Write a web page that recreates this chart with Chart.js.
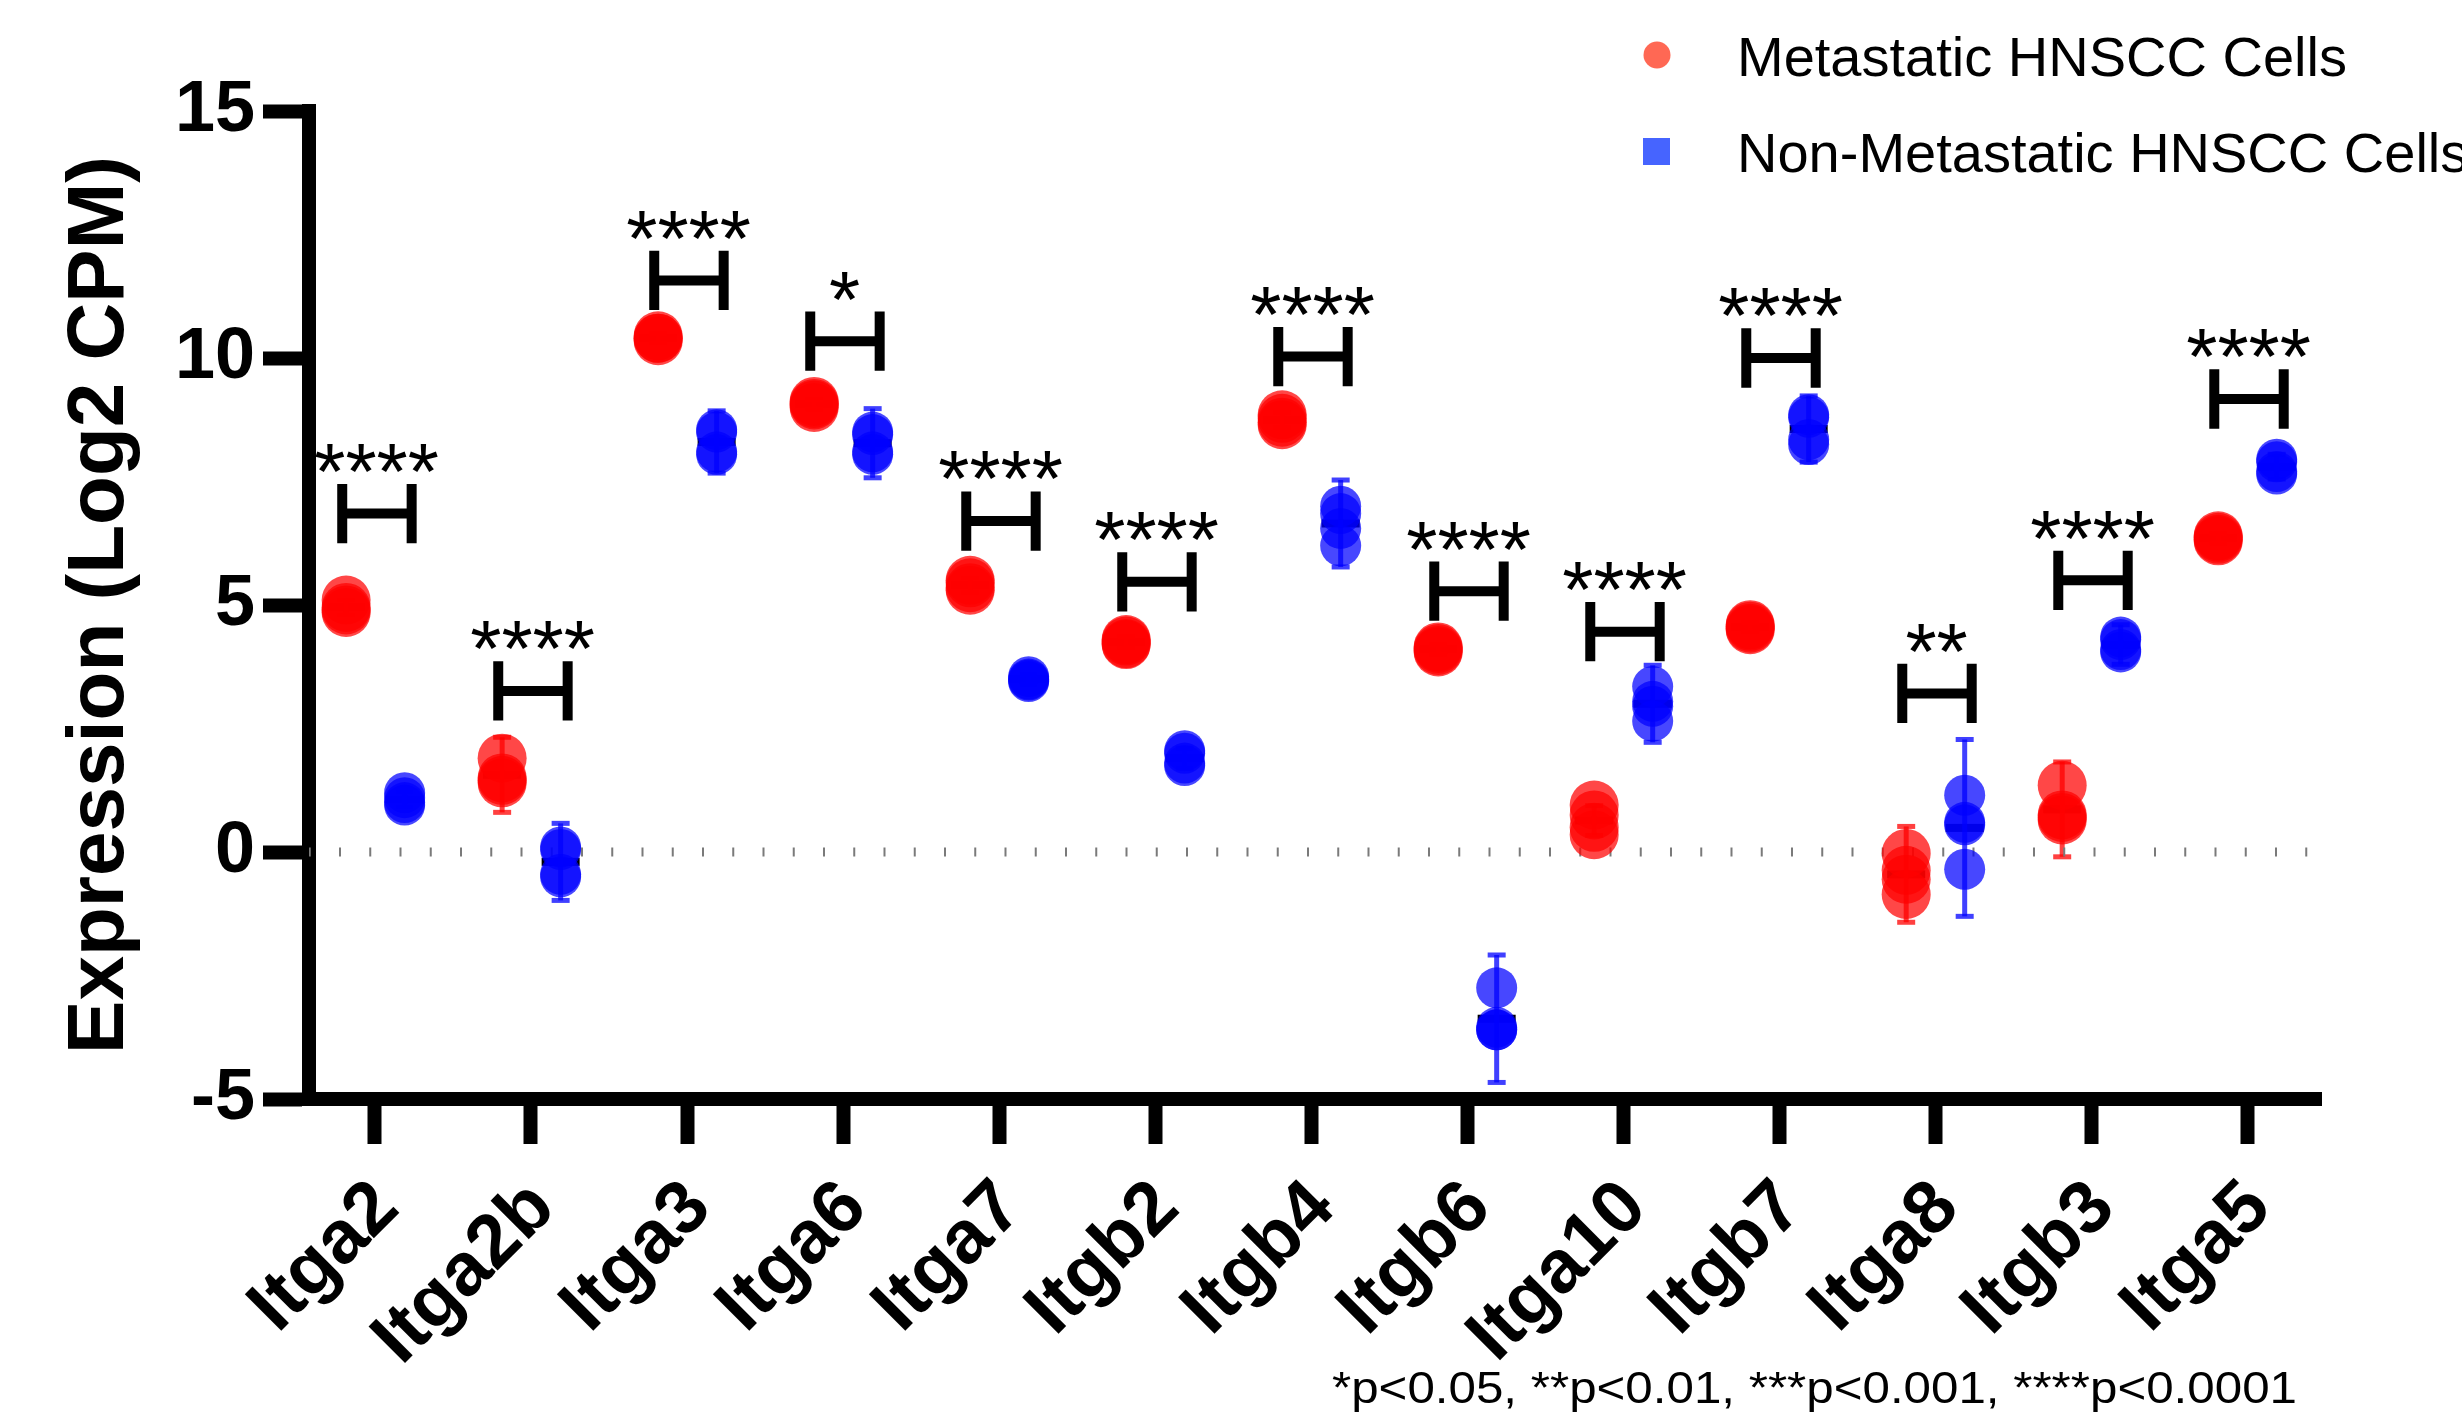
<!DOCTYPE html>
<html>
<head>
<meta charset="utf-8">
<title>Integrin expression</title>
<script src="https://cdn.jsdelivr.net/npm/chart.js@4.4.1/dist/chart.umd.min.js"></script>
<style>
  html, body { margin: 0; padding: 0; background: #fff; overflow: hidden; }
  canvas { display: block; }
</style>
</head>
<body>
<canvas id="c" width="2462" height="1427"></canvas>
<script>
const genes = ['Itga2', 'Itga2b', 'Itga3', 'Itga6', 'Itga7', 'Itgb2', 'Itgb4',
               'Itgb6', 'Itga10', 'Itgb7', 'Itga8', 'Itgb3', 'Itga5'];

// replicate values (Log2 CPM), one row per gene
const metastatic = [
  [5.1, 4.95, 4.9, 4.85],
  [1.9, 1.5, 1.45, 1.4],
  [10.45, 10.4, 10.4, 10.35],
  [9.12, 9.08, 9.05, 9.0],
  [5.5, 5.45, 5.35, 5.3],
  [4.3, 4.27, 4.22, 4.2],
  [8.85, 8.78, 8.7, 8.65],
  [4.15, 4.12, 4.08, 4.05],
  [0.95, 0.75, 0.5, 0.35],
  [4.6, 4.57, 4.53, 4.5],
  [-0.03, -0.37, -0.55, -0.86],
  [1.35, 0.75, 0.7, 0.65],
  [6.4, 6.37, 6.33, 6.3]
];
const nonMetastatic = [
  [1.2, 1.1, 1.0, 0.95],
  [0.1, 0.05, -0.45, -0.5],
  [8.55, 8.5, 8.1, 8.05],
  [8.5, 8.45, 8.1, 8.05],
  [3.55, 3.5, 3.48, 3.45],
  [2.05, 2.0, 1.8, 1.75],
  [7.0, 6.85, 6.55, 6.2],
  [-2.75, -3.55, -3.6, -3.6],
  [3.35, 3.05, 2.95, 2.65],
  [8.85, 8.8, 8.35, 8.25],
  [1.15, 0.6, 0.55, -0.35],
  [4.35, 4.3, 4.1, 4.05],
  [7.95, 7.9, 7.7, 7.65]
];

// error bar half-lengths
const metErr = [0.15, 0.76, 0.1, 0.1, 0.15, 0.12, 0.15, 0.1, 0.3, 0.1, 0.97, 0.96, 0.1];
const nonErr = [0.15, 0.78, 0.63, 0.7, 0.1, 0.2, 0.88, 1.29, 0.78, 0.67, 1.79, 0.4, 0.25];

// significance brackets: middle height and label
const bracketY = [6.85, 3.26, 11.57, 10.34, 6.7, 5.47, 10.03, 5.28, 4.46, 10.0, 3.21, 5.5, 9.17];
const stars = ['****', '****', '****', '*', '****', '****', '****', '****', '****', '****', '**', '****', '****'];

const yTicks = [-5, 0, 5, 10, 15];
const footnote = '*p<0.05, **p<0.01, ***p<0.001, ****p<0.0001';

const MET_DX = -0.185, NON_DX = 0.19;
const RED = 'rgba(255,0,0,0.72)', BLUE = 'rgba(0,0,255,0.72)';

const toPoints = (rows, dx) => rows.flatMap((vals, i) => vals.map(v => ({ x: i + dx, y: v })));
const mean = a => a.reduce((s, v) => s + v, 0) / a.length;

// mean lines + error bars, behind the dots
const groupStats = {
  id: 'groupStats',
  beforeDatasetsDraw(chart) {
    const { ctx, scales: { x, y } } = chart;
    const sets = [
      [metastatic, metErr, MET_DX, 'rgba(255,0,0,0.75)'],
      [nonMetastatic, nonErr, NON_DX, 'rgba(0,0,255,0.75)']
    ];
    ctx.save();
    sets.forEach(([rows, errs, dx, col]) => {
      rows.forEach((vals, i) => {
        const m = mean(vals);
        const px = x.getPixelForValue(i + dx);
        const top = y.getPixelForValue(m + errs[i]);
        const bot = y.getPixelForValue(m - errs[i]);
        const py = y.getPixelForValue(m);
        ctx.fillStyle = '#000';
        ctx.fillRect(px - 19, py - 4, 38, 8);
        ctx.fillStyle = col;
        ctx.fillRect(px - 2.5, top, 5, bot - top);
        ctx.fillRect(px - 9, top - 2.5, 18, 5);
        ctx.fillRect(px - 9, bot - 2.5, 18, 5);
      });
    });
    ctx.restore();
  }
};

// significance brackets, legend and footnote
const annotations = {
  id: 'annotations',
  afterDatasetsDraw(chart) {
    const { ctx, scales: { x, y } } = chart;
    ctx.save();
    ctx.strokeStyle = '#000';
    ctx.lineWidth = 10;
    ctx.lineCap = 'butt';
    ctx.fillStyle = '#000';
    ctx.font = '80px "Liberation Sans", Arial, sans-serif';
    ctx.textAlign = 'center';
    ctx.textBaseline = 'alphabetic';
    bracketY.forEach((b, i) => {
      const x1 = x.getPixelForValue(i - 0.21);
      const x2 = x.getPixelForValue(i + 0.235);
      const yt = y.getPixelForValue(b + 0.6);
      const yb = y.getPixelForValue(b - 0.6);
      const ym = y.getPixelForValue(b);
      ctx.beginPath();
      ctx.moveTo(x1, yt); ctx.lineTo(x1, yb);
      ctx.moveTo(x2, yt); ctx.lineTo(x2, yb);
      ctx.moveTo(x1, ym); ctx.lineTo(x2, ym);
      ctx.stroke();
      ctx.fillText(stars[i], x.getPixelForValue(i + 0.01), yt + 15);
    });
    ctx.restore();
  },
  afterDraw(chart) {
    const ctx = chart.ctx;
    const ds = chart.data.datasets;
    ctx.save();
    // legend
    ctx.fillStyle = 'rgb(255,104,84)';
    ctx.beginPath();
    ctx.arc(1657, 55, 13.5, 0, Math.PI * 2);
    ctx.fill();
    ctx.fillStyle = 'rgb(70,100,255)';
    ctx.fillRect(1643, 138, 27, 27);
    ctx.fillStyle = '#000';
    ctx.font = '56px "Liberation Sans", Arial, sans-serif';
    ctx.textAlign = 'left';
    ctx.textBaseline = 'alphabetic';
    ctx.fillText(ds[0].label, 1737, 76);
    ctx.fillText(ds[1].label, 1737, 172);
    // footnote, squeezed to the width it has in the figure
    ctx.font = '44px "Liberation Sans", Arial, sans-serif';
    const w = ctx.measureText(footnote).width;
    const target = 965;
    ctx.translate(2297 - target, 1403);
    ctx.scale(target / w, 1);
    ctx.fillText(footnote, 0, 0);
    ctx.restore();
  }
};

new Chart(document.getElementById('c'), {
  type: 'scatter',
  data: {
    datasets: [
      {
        label: 'Metastatic HNSCC Cells',
        data: toPoints(metastatic, MET_DX),
        backgroundColor: RED,
        borderWidth: 0,
        pointRadius: 24.5,
        pointHoverRadius: 24.5,
        order: 2
      },
      {
        label: 'Non-Metastatic HNSCC Cells',
        data: toPoints(nonMetastatic, NON_DX),
        backgroundColor: BLUE,
        borderWidth: 0,
        pointRadius: 20.5,
        pointHoverRadius: 20.5,
        order: 1
      },
      {
        type: 'line',
        label: 'zero',
        data: [{ x: -0.423, y: 0 }, { x: 12.474, y: 0 }],
        borderColor: '#7a7a7a',
        borderWidth: 9,
        borderDash: [2, 28.25],
        borderDashOffset: -30,
        borderCapStyle: 'butt',
        pointRadius: 0,
        order: 5
      }
    ]
  },
  options: {
    responsive: false,
    animation: false,
    events: [],
    layout: { padding: { top: 111, right: 141, left: 0, bottom: 0 } },
    plugins: {
      legend: { display: false },
      tooltip: { enabled: false },
      title: { display: false }
    },
    scales: {
      x: {
        type: 'linear',
        min: -0.423,
        max: 12.474,
        afterFit(scale) { scale.height = 328; },
        afterBuildTicks(scale) { scale.ticks = genes.map((g, i) => ({ value: i })); },
        border: { display: true, width: 14, color: '#000' },
        grid: { drawOnChartArea: false, drawTicks: true, tickLength: 45, tickWidth: 14, tickColor: '#000', color: '#000' },
        ticks: {
          autoSkip: false,
          minRotation: 45,
          maxRotation: 45,
          padding: 20,
          labelOffset: 12,
          color: '#000',
          font: { family: '"Liberation Sans", Arial, sans-serif', size: 75, weight: 'bold' },
          callback: v => genes[v]
        }
      },
      y: {
        min: -5,
        max: 15,
        afterFit(scale) { scale.width = 309; },
        afterBuildTicks(scale) { scale.ticks = yTicks.map(v => ({ value: v })); },
        border: { display: true, width: 14, color: '#000' },
        grid: { drawOnChartArea: false, drawTicks: true, tickLength: 46, tickWidth: 14, tickColor: '#000', color: '#000' },
        ticks: {
          padding: 8,
          color: '#000',
          font: { family: '"Liberation Sans", Arial, sans-serif', size: 72, weight: 'bold' }
        },
        title: {
          display: true,
          text: 'Expression (Log2 CPM)',
          color: '#000',
          padding: { top: 53, bottom: 0 },
          font: { family: '"Liberation Sans", Arial, sans-serif', size: 80, weight: 'bold' }
        }
      }
    }
  },
  plugins: [groupStats, annotations]
});
</script>
</body>
</html>
